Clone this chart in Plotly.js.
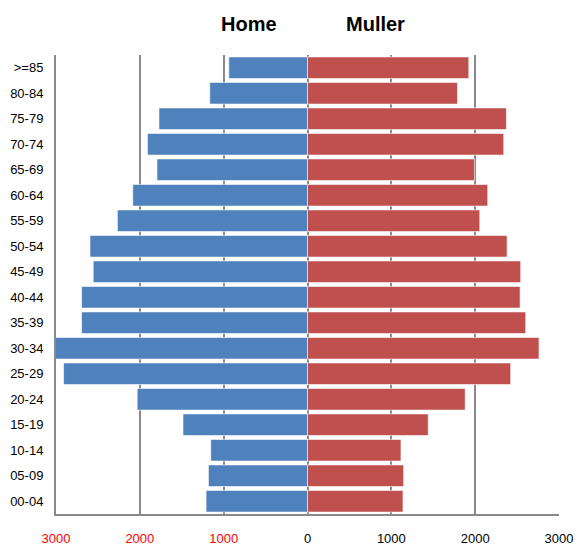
<!DOCTYPE html>
<html>
<head>
<meta charset="utf-8">
<script src="https://cdn.plot.ly/plotly-3.0.1.min.js"></script>
<style>html,body{margin:0;padding:0;background:#fff;}#chart{width:579px;height:550px;}</style>
</head>
<body>
<div id="chart"></div>
<script>
const ageGroups = ["00-04","05-09","10-14","15-19","20-24","25-29","30-34","35-39","40-44","45-49","50-54","55-59","60-64","65-69","70-74","75-79","80-84",">=85"];
const homeValues =   [1210,1182,1154,1485,2032,2910,3010,2695,2695,2556,2595,2268,2084,1796,1909,1772,1166,939];
const mullerValues = [1139,1147,1115,1440,1881,2424,2762,2603,2536,2543,2381,2055,2150,1992,2341,2373,1789,1924];
const tickValues = [-3000,-2000,-1000,0,1000,2000,3000];
const tickLabels = ['<span style="color:#ff0000">3000</span>','<span style="color:#ff0000">2000</span>','<span style="color:#ff0000">1000</span>','0','1000','2000','3000'];
const seriesNames = ["Home","Muller"];

const traces = [
  {type:'bar', orientation:'h', name:seriesNames[0], y:ageGroups, x:homeValues.map(v=>-v),
   marker:{color:'#4F81BD', line:{color:'rgba(255,255,255,0.6)', width:1}}, hoverinfo:'skip'},
  {type:'bar', orientation:'h', name:seriesNames[1], y:ageGroups, x:mullerValues,
   marker:{color:'#C0504D', line:{color:'rgba(255,255,255,0.6)', width:1}}, hoverinfo:'skip'}
];

const layout = {
  width:579, height:550,
  margin:{l:56, r:20, t:55, b:36},
  paper_bgcolor:'#fff', plot_bgcolor:'#fff',
  barmode:'relative', bargap:0.15,
  showlegend:false,
  font:{family:'Liberation Sans, Arial, sans-serif', size:13, color:'#000'},
  xaxis:{range:[-3000,3000], tickvals:tickValues, ticktext:tickLabels,
    showgrid:true, gridcolor:'#8a8a8e', gridwidth:2,
    zeroline:true, zerolinecolor:'#8a8a8e', zerolinewidth:2,
    showline:true, linecolor:'#8a8a8e', linewidth:2, mirror:false,
    ticks:'', ticklabelstandoff:11, tickfont:{size:13, color:'#000'}, fixedrange:true},
  yaxis:{type:'category', categoryorder:'array', categoryarray:ageGroups,
    showgrid:false, zeroline:false,
    showline:true, linecolor:'#8a8a8e', linewidth:2,
    ticks:'', ticklabelstandoff:8, tickfont:{size:13, color:'#000'}, fixedrange:true},
  annotations:[
    {text:'<b>'+seriesNames[0]+'</b>', xref:'paper', yref:'paper', x:(249-56)/503, y:1+(55-24)/459, xanchor:'center', yanchor:'middle', showarrow:false, font:{size:20, color:'#000', family:'Liberation Sans, Arial, sans-serif'}},
    {text:'<b>'+seriesNames[1]+'</b>', xref:'paper', yref:'paper', x:(375-56)/503, y:1+(55-24)/459, xanchor:'center', yanchor:'middle', showarrow:false, font:{size:20, color:'#000', family:'Liberation Sans, Arial, sans-serif'}}
  ]
};

Plotly.newPlot('chart', traces, layout, {staticPlot:true, displayModeBar:false});
</script>
</body>
</html>
